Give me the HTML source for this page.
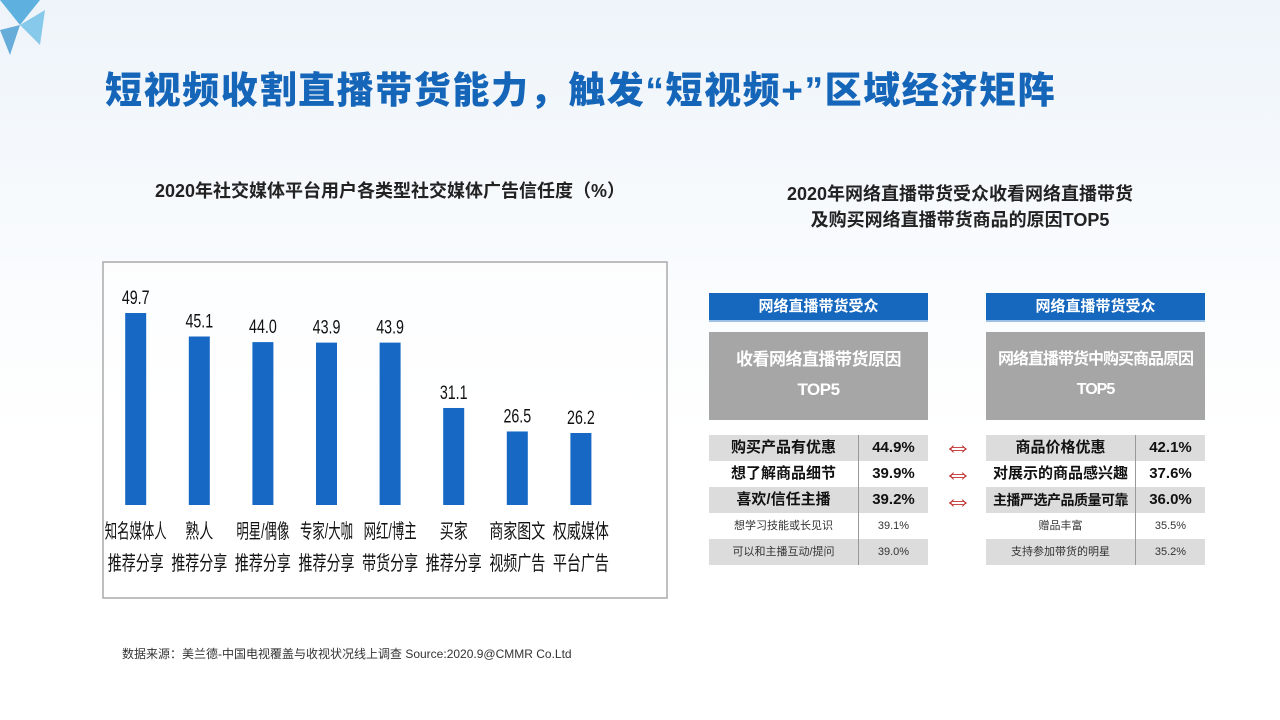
<!DOCTYPE html>
<html><head><meta charset="utf-8">
<style>
body{margin:0;width:1280px;height:720px;overflow:hidden;background:linear-gradient(180deg,#eef4fa 0%,#f7fafd 30%,#ffffff 60%);font-family:"Liberation Sans","Noto Sans CJK SC",sans-serif;position:relative}
.abs{position:absolute}
.title{left:105px;top:60px;font-size:37px;font-weight:900;color:#1565b8;white-space:nowrap;letter-spacing:1.6px}
.ct{font-size:18px;color:#222;font-weight:bold;text-align:center;white-space:nowrap}
.tbl{position:absolute;width:219px}
.hdr{height:27px;background:#1668bf;color:#fff;font-weight:bold;font-size:15px;text-align:center;line-height:27px;border-bottom:2px solid #9cc0e6}
.gray{margin-top:10px;height:88px;background:#a6a6a6;color:#fff;font-weight:bold;font-size:17px;text-align:center;line-height:30px;padding-top:13px;box-sizing:border-box;white-space:nowrap;letter-spacing:-0.5px}
.row{display:flex;height:26px;line-height:26px;text-align:center;color:#111;white-space:nowrap}
.row .n{width:149px;border-right:1px solid #999}
.row .v{flex:1}
.big{font-weight:bold;font-size:15px}
.sm{font-size:11px;color:#333}
.g{background:#dcdcdc}
.w{background:#fff}
.arrow{position:absolute;left:940px;width:36px;color:#c03030;font-size:30px;line-height:24px;text-align:center}
</style></head><body>
<svg class="abs" style="left:0;top:0" width="70" height="70">
<polygon points="0,0 40,0 20,25" fill="#3aa0d8" opacity="0.8"/><polygon points="20,25 45,10 40,45" fill="#5bb7e3" opacity="0.7"/><polygon points="0,30 20,25 10,55" fill="#2d8fcb" opacity="0.7"/></svg>
<div class="abs title">短视频收割直播带货能力，触发“短视频+”区域经济矩阵</div>

<div class="abs ct" style="left:100px;width:580px;top:177px">2020年社交媒体平台用户各类型社交媒体广告信任度（%）</div>
<svg class="abs" style="left:0;top:0" width="700" height="620" id="chart">
<rect x="103" y="262" width="564" height="336" fill="#fff" fill-opacity="0.6" stroke="#aaa" stroke-width="1.5"/>
</svg>

<div class="abs ct" style="left:700px;width:520px;top:181px;line-height:26px">2020年网络直播带货受众收看网络直播带货<br>及购买网络直播带货商品的原因TOP5</div>

<div class="tbl" style="left:709px;top:293px">
<div class="hdr">网络直播带货受众</div>
<div class="gray">收看网络直播带货原因<br>TOP5</div>
<div style="height:15px"></div>
<div class="row g big"><div class="n">购买产品有优惠</div><div class="v">44.9%</div></div>
<div class="row w big"><div class="n">想了解商品细节</div><div class="v">39.9%</div></div>
<div class="row g big"><div class="n">喜欢/信任主播</div><div class="v">39.2%</div></div>
<div class="row w sm"><div class="n">想学习技能或长见识</div><div class="v">39.1%</div></div>
<div class="row g sm"><div class="n">可以和主播互动/提问</div><div class="v">39.0%</div></div>
</div>
<div class="tbl" style="left:986px;top:293px">
<div class="hdr">网络直播带货受众</div>
<div class="gray" style="font-size:16px;letter-spacing:-1px">网络直播带货中购买商品原因<br>TOP5</div>
<div style="height:15px"></div>
<div class="row g big"><div class="n">商品价格优惠</div><div class="v">42.1%</div></div>
<div class="row w big"><div class="n">对展示的商品感兴趣</div><div class="v">37.6%</div></div>
<div class="row g big"><div class="n" style="font-size:14px;letter-spacing:-0.5px">主播严选产品质量可靠</div><div class="v">36.0%</div></div>
<div class="row w sm"><div class="n">赠品丰富</div><div class="v">35.5%</div></div>
<div class="row g sm"><div class="n">支持参加带货的明星</div><div class="v">35.2%</div></div>
</div>
<div class="arrow" style="top:435px">⇔</div>
<div class="arrow" style="top:462px">⇔</div>
<div class="arrow" style="top:489px">⇔</div>

<div class="abs" style="left:122px;top:645px;font-size:12px;color:#333">数据来源：美兰德-中国电视覆盖与收视状况线上调查 Source:2020.9@CMMR Co.Ltd</div>

<script>
const categories1=["知名媒体人","熟人","明星/偶像","专家/大咖","网红/博主","买家","商家图文","权威媒体"];
const categories2=["推荐分享","推荐分享","推荐分享","推荐分享","带货分享","推荐分享","视频广告","平台广告"];
const values=[49.7,45.1,44.0,43.9,43.9,31.1,26.5,26.2];
const labels=["49.7","45.1","44.0","43.9","43.9","31.1","26.5","26.2"];
const svg=document.getElementById('chart');
const NS='http://www.w3.org/2000/svg';
const yMin=12.1, yMax=49.7, yBottom=505, yTop=313;
function y(v){return yBottom-(v-yMin)/(yMax-yMin)*(yBottom-yTop);}
function x(i){return 135.7+i*63.6;}
values.forEach((v,i)=>{
  const r=document.createElementNS(NS,'rect');
  r.setAttribute('x',x(i)-10.5);r.setAttribute('y',y(v));r.setAttribute('width',21);r.setAttribute('height',yBottom-y(v));r.setAttribute('fill','#1668c4');
  
  
  svg.appendChild(r);
  const t=document.createElementNS(NS,'text');
  t.setAttribute('transform','translate('+x(i)+','+(y(v)-9)+') scale(0.75,1)');
  t.setAttribute('text-anchor','middle');t.setAttribute('font-size','19');t.setAttribute('fill','#111');
  t.textContent=labels[i];
  
  
  svg.appendChild(t);
  [categories1[i],categories2[i]].forEach((s,k)=>{
    const c=document.createElementNS(NS,'text');
    const sx=s.length>=5?0.62:0.7;
    c.setAttribute('transform','translate('+x(i)+','+(538+k*32)+') scale('+sx+',1)');
    c.setAttribute('text-anchor','middle');c.setAttribute('font-size','20');c.setAttribute('fill','#111');
    c.setAttribute('font-family','Liberation Sans, Noto Sans CJK SC, sans-serif');
    c.textContent=s;
    
    
    svg.appendChild(c);
  });
});
</script>
</body></html>
